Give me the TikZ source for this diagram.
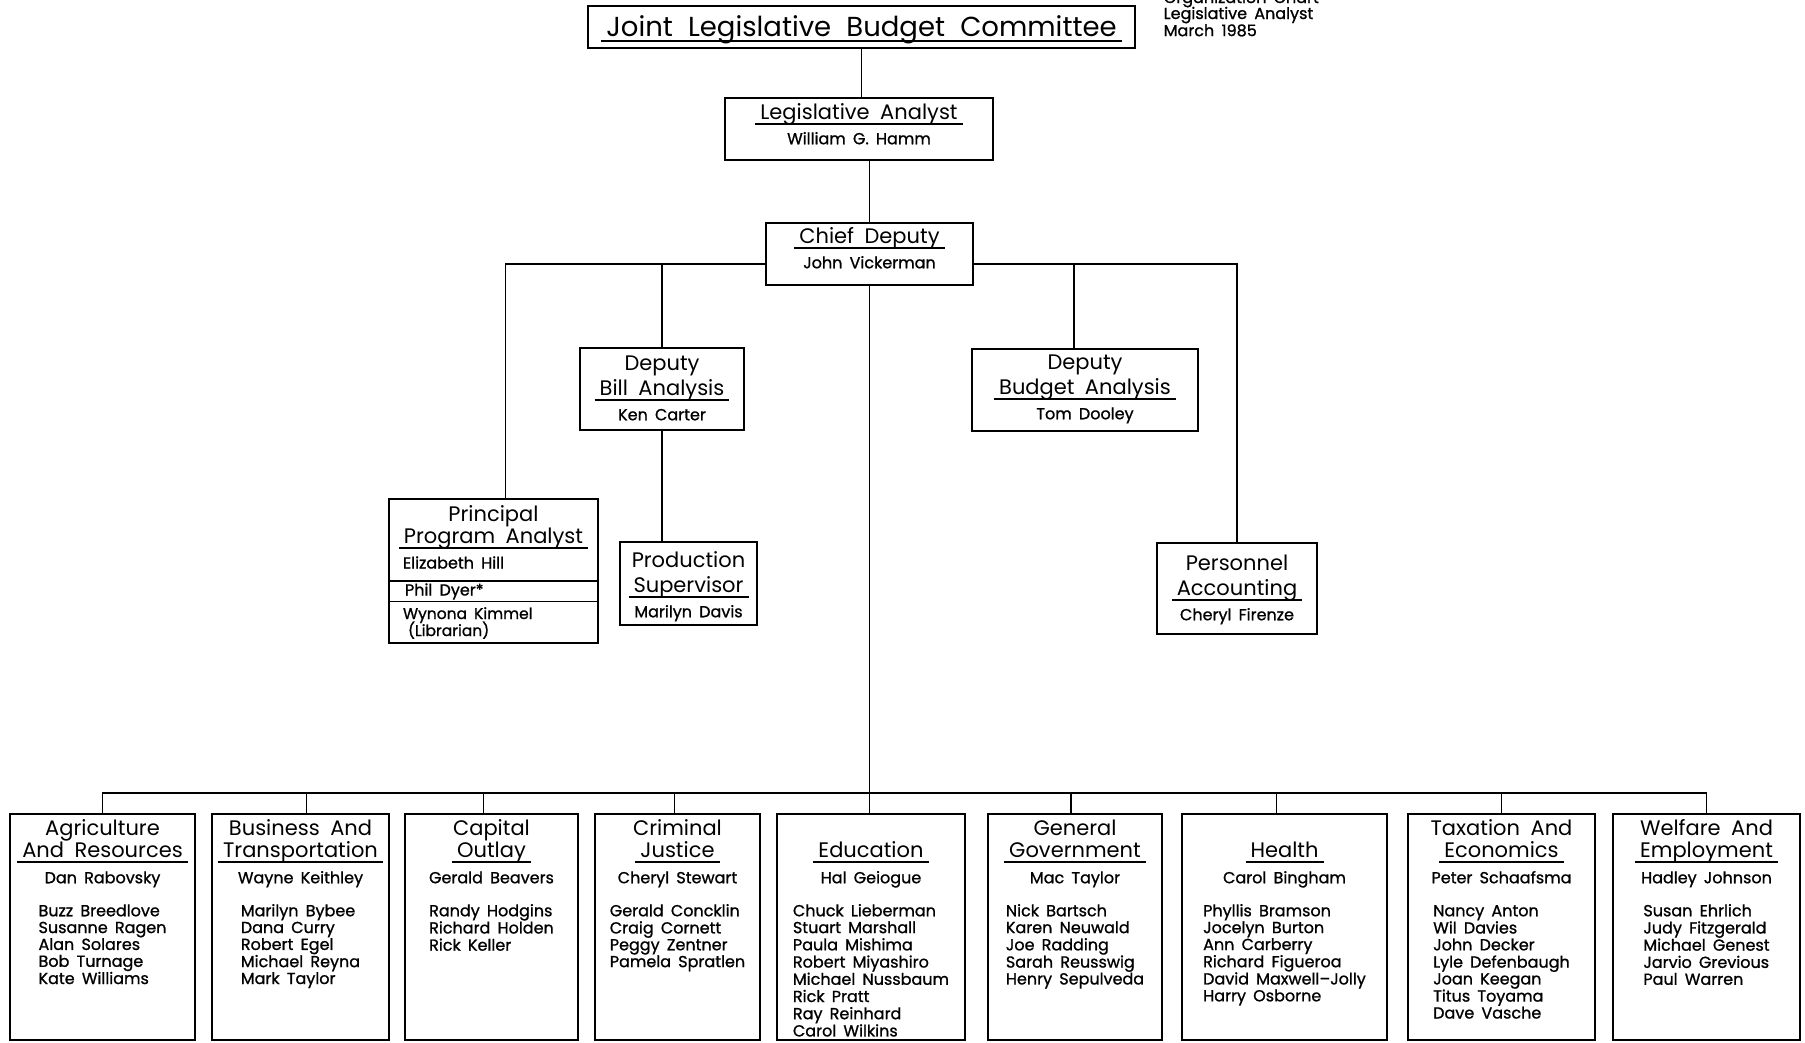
\documentclass[tikz,border=0pt]{standalone}
\usepackage{fontspec}
\setmainfont{Poppins}
\newfontfamily\nmfam{Poppins}[FakeBold=1]
\usetikzlibrary{shapes.multipart}
\setlength\parindent{0pt}
\setlength\parskip{0pt}
\newcommand\tight{\lineskiplimit=-100pt\relax}
\newcommand\ttl[1]{\leavevmode\setbox0=\hbox{\hspace{5pt}#1\hspace{5pt}}\rlap{\rule[-5pt]{\wd0}{1.5pt}}\box0}
\newcommand\hdA{\fontsize{27.5}{32}\selectfont\spaceskip=.55em\relax\tight}
\newcommand\hd{\fontsize{21}{25}\selectfont\spaceskip=.5em\relax\tight}
\newcommand\hdb{\fontsize{21}{22}\selectfont\spaceskip=.5em\relax\tight}
\newcommand\hdc{\fontsize{21}{22}\selectfont\spaceskip=.5em\relax\tight}
\newcommand\nm{\nmfam\fontsize{16}{24.5}\selectfont\spaceskip=.45em\relax\tight}
\newcommand\nmh{\nmfam\fontsize{16}{25.5}\selectfont\spaceskip=.45em\relax\tight}
\newcommand\nmp{\nmfam\fontsize{16}{25}\selectfont\spaceskip=.45em\relax\tight}
\newcommand\nml{\nmfam\fontsize{16}{16.8}\selectfont\spaceskip=.45em\relax}
\newcommand\nms{\nmfam\fontsize{16}{16}\selectfont\spaceskip=.45em\relax\tight}
\newcommand\nmt{\nmfam\fontsize{15.5}{17}\selectfont\spaceskip=.45em\relax\tight}
\begin{document}
\begin{tikzpicture}[x=1pt,y=-1pt,line width=1.5pt]
  \tikzstyle{box}=[draw,anchor=north,align=center,inner xsep=4pt,inner ysep=0pt]
  \tikzstyle{unit}=[box,text height=22pt,text depth=204pt]

  \useasboundingbox [fill=white] (0,0) rectangle (1805,1042);

  \node [box,text width=539pt,text height=31pt,text depth=11pt] (jlbc) at (861.5,5)
    {\hdA\ttl{Joint Legislative Budget Committee}};
  \node [anchor=base west,align=left,text width=200pt,inner sep=0pt] (note) at (1163,3)
    {\nms Organization Chart\\Legislative Analyst\\March 1985};

  \node [box,text width=260pt,text height=22pt,text depth=40pt] (lga) at (859,97)
    {{\hd\ttl{Legislative Analyst}\par}{\nm William G. Hamm\par}};
  \node [box,text width=199pt,text height=21pt,text depth=41pt] (cd) at (869.5,222)
    {{\hd\ttl{Chief Deputy}\par}{\nm John Vickerman\par}};
  \node [box,text width=156pt,text height=23pt,text depth=59pt] (dba) at (662,347)
    {{\hd Deputy\\\ttl{Bill Analysis}\par}{\nm Ken Carter\par}};
  \node [box,text width=218pt,text height=21pt,text depth=61pt] (dbu) at (1085,348)
    {{\hd Deputy\\\ttl{Budget Analysis}\par}{\nm Tom Dooley\par}};
  \node [box,text width=129pt,text height=26pt,text depth=57pt] (ps) at (688.5,541)
    {{\hd Production\\\ttl{Supervisor}\par}{\nm Marilyn Davis\par}};
  \node [box,text width=152pt,text height=28pt,text depth=63pt] (pa) at (1237,542)
    {{\hd Personnel\\\ttl{Accounting}\par}{\nm Cheryl Firenze\par}};
  \node [box,rectangle split,rectangle split parts=3,align=left,inner xsep=5pt,text width=199pt] (ppa) at (493.5,498)
    {{\centering\hdc\rule{0pt}{22pt}Principal\\\ttl{Program Analyst}\par}{\nmp\hspace*{9pt}Elizabeth Hill\rule[-11.5pt]{0pt}{11.5pt}\par}
     \nodepart{two}{\nms\hspace*{11pt}Phil Dyer*\rule[-5pt]{0pt}{19pt}\par}
     \nodepart{three}{\nmt\hspace*{9pt}\rule{0pt}{17pt}Wynona Kimmel\\\hspace*{14pt}(Librarian)\rule[-6pt]{0pt}{6pt}\par}};

  \node [unit,text width=177pt] (agr) at (102.5,813)
    {{\hdb Agriculture\\\ttl{And Resources}\par}{\nmh Dan Rabovsky\par}\vspace{16.2pt}
     {\nml\begin{tabular}[t]{@{}l@{}}Buzz Breedlove\\Susanne Ragen\\Alan Solares\\Bob Turnage\\Kate Williams\end{tabular}\par}};
  \node [unit,text width=169pt] (bat) at (300.5,813)
    {{\hdb Business And\\\ttl{Transportation}\par}{\nmh Wayne Keithley\par}\vspace{16.2pt}
     {\nml\begin{tabular}[t]{@{}l@{}}Marilyn Bybee\\Dana Curry\\Robert Egel\\Michael Reyna\\Mark Taylor\end{tabular}\par}};
  \node [unit,text width=165pt] (cap) at (491.5,813)
    {{\hdb Capital\\\ttl{Outlay}\par}{\nmh Gerald Beavers\par}\vspace{16.2pt}
     {\nml\begin{tabular}[t]{@{}l@{}}Randy Hodgins\\Richard Holden\\Rick Keller\end{tabular}\par}};
  \node [unit,text width=157pt] (crj) at (677.5,813)
    {{\hdb Criminal\\\ttl{Justice}\par}{\nmh Cheryl Stewart\par}\vspace{16.2pt}
     {\nml\begin{tabular}[t]{@{}l@{}}Gerald Concklin\\Craig Cornett\\Peggy Zentner\\Pamela Spratlen\end{tabular}\par}};
  \node [unit,text width=180pt] (edu) at (871,813)
    {{\hdb\mbox{}\\\ttl{Education}\par}{\nmh Hal Geiogue\par}\vspace{16.2pt}
     {\nml\begin{tabular}[t]{@{}l@{}}Chuck Lieberman\\Stuart Marshall\\Paula Mishima\\Robert Miyashiro\\Michael Nussbaum\\Rick Pratt\\Ray Reinhard\\Carol Wilkins\end{tabular}\par}};
  \node [unit,text width=166pt] (ggv) at (1075,813)
    {{\hdb General\\\ttl{Government}\par}{\nmh Mac Taylor\par}\vspace{16.2pt}
     {\nml\begin{tabular}[t]{@{}l@{}}Nick Bartsch\\Karen Neuwald\\Joe Radding\\Sarah Reusswig\\Henry Sepulveda\end{tabular}\par}};
  \node [unit,text width=197pt] (hea) at (1284.5,813)
    {{\hdb\mbox{}\\\ttl{Health}\par}{\nmh Carol Bingham\par}\vspace{16.2pt}
     {\nml\begin{tabular}[t]{@{}l@{}}Phyllis Bramson\\Jocelyn Burton\\Ann Carberry\\Richard Figueroa\\David Maxwell–Jolly\\Harry Osborne\end{tabular}\par}};
  \node [unit,text width=179pt] (tax) at (1501.5,813)
    {{\hdb Taxation And\\\ttl{Economics}\par}{\nmh Peter Schaafsma\par}\vspace{16.2pt}
     {\nml\begin{tabular}[t]{@{}l@{}}Nancy Anton\\Wil Davies\\John Decker\\Lyle Defenbaugh\\Joan Keegan\\Titus Toyama\\Dave Vasche\end{tabular}\par}};
  \node [unit,text width=179pt] (wel) at (1706.5,813)
    {{\hdb Welfare And\\\ttl{Employment}\par}{\nmh Hadley Johnson\par}\vspace{16.2pt}
     {\nml\begin{tabular}[t]{@{}l@{}}Susan Ehrlich\\Judy Fitzgerald\\Michael Genest\\Jarvio Grevious\\Paul Warren\end{tabular}\par}};

  \coordinate (cdl) at ([yshift=-10pt]cd.west);
  \coordinate (cdr) at ([yshift=-10pt]cd.east);
  \coordinate (dbtop) at ([xshift=-11pt]dbu.north);
  \draw (jlbc.south) -- (jlbc.south |- lga.north);
  \draw (lga.south -| cd.north) -- (cd.north);
  \draw (cdl) -| ([xshift=12pt]ppa.north);
  \draw (dba.north) -- (dba.north |- cdl);
  \draw (dba.south) -- (dba.south |- ps.north);
  \draw (cdr) -| (pa.north);
  \draw (dbtop) -- (dbtop |- cdr);
  \draw (cd.south) -- (cd.south |- edu.north);
  \draw (agr.north) -- ++(0,-20) -| (wel.north);
  \draw ([xshift=6pt]bat.north) -- ++(0,-20);
  \draw ([xshift=-8pt]cap.north) -- ++(0,-20);
  \draw ([xshift=-3pt]crj.north) -- ++(0,-20);
  \draw ([xshift=-4pt]ggv.north) -- ++(0,-20);
  \draw ([xshift=-8pt]hea.north) -- ++(0,-20);
  \draw (tax.north) -- ++(0,-20);
\end{tikzpicture}
\end{document}
